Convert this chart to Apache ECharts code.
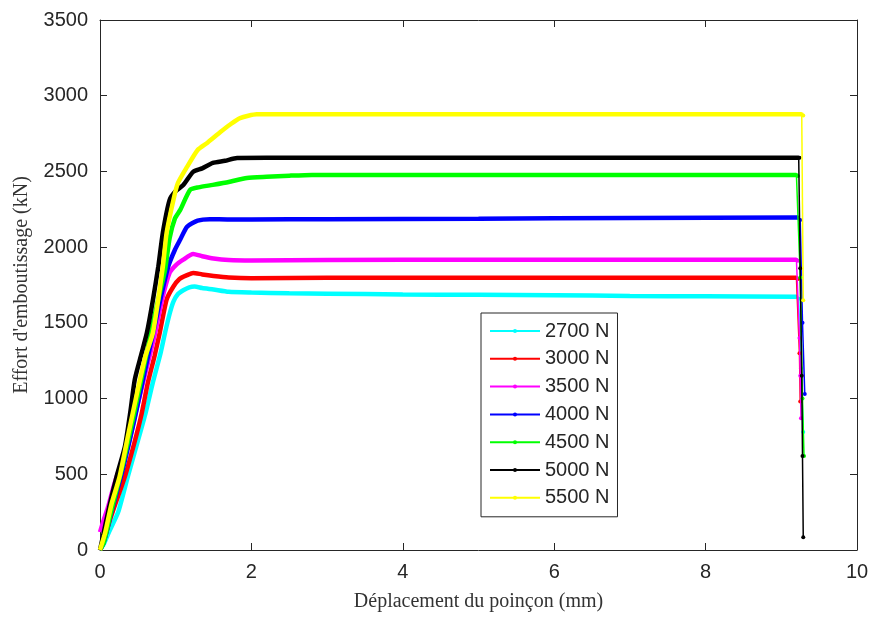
<!DOCTYPE html>
<html>
<head>
<meta charset="utf-8">
<script src="https://cdn.jsdelivr.net/npm/echarts@6/dist/echarts.min.js"></script>
<style>html,body{margin:0;padding:0;background:#fff}#c{width:873px;height:617px}</style>
</head>
<body>
<div id="c"></div>
<script>
// ---------- data ----------
var seriesNames = ['2700 N', '3000 N', '3500 N', '4000 N', '4500 N', '5000 N', '5500 N'];
var seriesColors = ['#00FFFF', '#FF0000', '#FF00FF', '#0000FF', '#00FF00', '#000000', '#FFFF00'];

var x2700 = [0, 0.05, 0.12, 0.24, 0.37, 0.5, 0.6, 0.7, 0.8, 0.86, 0.92, 0.97, 1.03, 1.1, 1.18, 1.25, 1.35, 1.5, 1.7, 2.0, 2.5, 3, 4, 5, 6, 7, 8, 9.2];
var y2700 = [0, 40, 120, 250, 490, 720, 900, 1110, 1300, 1436, 1560, 1640, 1690, 1715, 1735, 1740, 1730, 1720, 1705, 1700, 1695, 1693, 1688, 1685, 1682, 1678, 1675, 1672];

var x3000 = [0, 0.05, 0.12, 0.2, 0.33, 0.45, 0.55, 0.63, 0.72, 0.79, 0.88, 0.97, 1.05, 1.15, 1.23, 1.35, 1.5, 1.7, 2.0, 3, 5, 7, 9.2];
var y3000 = [0, 60, 180, 300, 487, 700, 900, 1100, 1280, 1436, 1654, 1740, 1790, 1815, 1830, 1820, 1810, 1800, 1795, 1798, 1798, 1798, 1798];

var x3500 = [0, 0.05, 0.11, 0.18, 0.24, 0.3, 0.37, 0.46, 0.57, 0.65, 0.73, 0.82, 0.92, 1.0, 1.1, 1.23, 1.35, 1.5, 1.7, 2.0, 3, 5, 7, 9.2];
var y3500 = [118, 200, 290, 420, 513, 590, 686, 884, 1110, 1270, 1436, 1654, 1831, 1880, 1917, 1955, 1940, 1925, 1915, 1912, 1915, 1917, 1917, 1917];

var x4000 = [0, 0.05, 0.15, 0.3, 0.45, 0.6, 0.7, 0.8, 0.9, 0.99, 1.06, 1.15, 1.29, 1.45, 1.7, 2, 3, 5, 7, 9.22];
var y4000 = [0, 50, 250, 530, 850, 1200, 1430, 1660, 1870, 1983, 2050, 2135, 2175, 2185, 2183, 2183, 2185, 2188, 2192, 2195];

var x4500 = [0, 0.05, 0.15, 0.3, 0.45, 0.6, 0.7, 0.8, 0.86, 0.92, 0.99, 1.06, 1.19, 1.3, 1.49, 1.7, 1.94, 2.2, 2.5, 2.8, 3.5, 5, 7, 9.2];
var y4500 = [0, 50, 260, 560, 900, 1260, 1500, 1720, 1850, 2060, 2190, 2246, 2378, 2395, 2411, 2430, 2457, 2465, 2472, 2477, 2477, 2477, 2477, 2477];

var x5000 = [0, 0.04, 0.12, 0.22, 0.33, 0.40, 0.46, 0.55, 0.62, 0.70, 0.77, 0.83, 0.92, 1.0, 1.1, 1.23, 1.35, 1.49, 1.65, 1.81, 2.2, 3, 5, 7, 9.23];
var y5000 = [0, 92, 280, 487, 686, 909, 1127, 1300, 1436, 1654, 1871, 2095, 2312, 2370, 2410, 2497, 2520, 2556, 2570, 2589, 2590, 2590, 2590, 2590, 2590];

var x5500 = [0, 0.07, 0.15, 0.26, 0.38, 0.50, 0.60, 0.70, 0.83, 0.88, 0.97, 1.03, 1.15, 1.29, 1.42, 1.59, 1.72, 1.85, 2.07, 3, 5, 7, 9.27];
var y5500 = [0, 118, 300, 487, 780, 1061, 1280, 1436, 1871, 2095, 2312, 2424, 2530, 2642, 2690, 2760, 2810, 2852, 2877, 2877, 2877, 2877, 2877];

// unloading (drop) segments at the end of the stroke
var dx2700 = [9.2, 9.23, 9.26, 9.29];
var dy2700 = [1672, 1660, 1200, 780];
var dx3000 = [9.2, 9.22, 9.24, 9.25];
var dy3000 = [1798, 1790, 1300, 980];
var dx3500 = [9.2, 9.22, 9.24, 9.25, 9.26];
var dy3500 = [1917, 1910, 1400, 1150, 870];
var dx4000 = [9.22, 9.25, 9.28, 9.31];
var dy4000 = [2195, 2180, 1500, 1030];
var dx4500 = [9.2, 9.22, 9.25, 9.28, 9.30];
var dy4500 = [2477, 2470, 1800, 1000, 620];
var dx5000 = [9.23, 9.24, 9.25, 9.27, 9.28, 9.29];
var dy5000 = [2590, 2590, 1860, 1150, 620, 85];
var dx5500 = [9.27, 9.29, 9.29];
var dy5500 = [2877, 2870, 1650];

var xTicks = [0, 2, 4, 6, 8, 10];
var yTicks = [0, 500, 1000, 1500, 2000, 2500, 3000, 3500];

// ---------- build ----------
function zip(xs, ys) { return xs.map(function (x, i) { return [x, ys[i]]; }); }
var mains = [[x2700, y2700], [x3000, y3000], [x3500, y3500], [x4000, y4000], [x4500, y4500], [x5000, y5000], [x5500, y5500]];
var drops = [[dx2700, dy2700], [dx3000, dy3000], [dx3500, dy3500], [dx4000, dy4000], [dx4500, dy4500], [dx5000, dy5000], [dx5500, dy5500]];

var series = [];
seriesNames.forEach(function (n, i) {
  series.push({
    name: n, type: 'line', data: zip(mains[i][0], mains[i][1]),
    symbol: 'circle', symbolSize: 4, showSymbol: false, z: 10 + i,
    smooth: 0.2,
    lineStyle: { color: seriesColors[i], width: 4.5 }, itemStyle: { color: seriesColors[i] },
    emphasis: { disabled: true }, animation: false
  });
  series.push({
    name: n, type: 'line', data: zip(drops[i][0], drops[i][1]),
    symbol: 'circle', symbolSize: 4, showSymbol: true, z: 10 + i,
    lineStyle: { color: seriesColors[i], width: 1.5 }, itemStyle: { color: seriesColors[i] },
    emphasis: { disabled: true }, animation: false
  });
});

var axisColor = '#262626';
var tickFont = { fontFamily: 'Liberation Sans, Arial, sans-serif', fontSize: 20, color: axisColor };
var nameFont = { fontFamily: 'Liberation Serif, Times New Roman, serif', fontSize: 20, color: '#333' };
function plain(v) { return String(v); }

var chart = echarts.init(document.getElementById('c'), null, { renderer: 'canvas' });
chart.setOption({
  backgroundColor: '#fff',
  animation: false,
  grid: { left: 100, right: 16, top: 20, bottom: 66, containLabel: false },
  legend: {
    orient: 'vertical', left: 481, top: 313,
    data: seriesNames,
    itemWidth: 50, itemHeight: 5, itemGap: 7.8,
    padding: [8, 8, 9, 8],
    borderColor: axisColor, borderWidth: 1, backgroundColor: '#fff', borderRadius: 0,
    lineStyle: { width: 2 },
    textStyle: { fontFamily: 'Liberation Sans, Arial, sans-serif', fontSize: 20, color: axisColor, padding: [0, 0, 0, 0] },
    selectedMode: false
  },
  xAxis: [{
    type: 'value', min: xTicks[0], max: xTicks[xTicks.length - 1], interval: 2,
    name: 'Déplacement du poinçon (mm)', nameLocation: 'middle', nameGap: 42, nameTextStyle: nameFont,
    axisLine: { onZero: false, lineStyle: { color: axisColor, width: 1 } },
    axisTick: { inside: true, length: 7, lineStyle: { color: axisColor } },
    axisLabel: Object.assign({ margin: 12, formatter: plain }, tickFont),
    splitLine: { show: false }
  }, {
    type: 'value', position: 'top', min: 0, max: 10, interval: 2,
    axisLine: { onZero: false, lineStyle: { color: axisColor, width: 1 } },
    axisTick: { inside: true, length: 7, lineStyle: { color: axisColor } },
    axisLabel: { show: false }, splitLine: { show: false }
  }],
  yAxis: [{
    type: 'value', min: yTicks[0], max: yTicks[yTicks.length - 1], interval: 500,
    name: "Effort d'emboutissage (kN)", nameLocation: 'middle', nameGap: 68, nameTextStyle: nameFont,
    axisLine: { show: true, onZero: false, lineStyle: { color: axisColor, width: 1 } },
    axisTick: { show: true, inside: true, length: 7, lineStyle: { color: axisColor } },
    axisLabel: Object.assign({ margin: 12, formatter: plain }, tickFont),
    splitLine: { show: false }
  }, {
    type: 'value', position: 'right', min: 0, max: 3500, interval: 500,
    axisLine: { show: true, onZero: false, lineStyle: { color: axisColor, width: 1 } },
    axisTick: { show: true, inside: true, length: 7, lineStyle: { color: axisColor } },
    axisLabel: { show: false }, splitLine: { show: false }
  }],
  series: series
});
</script>
</body>
</html>
